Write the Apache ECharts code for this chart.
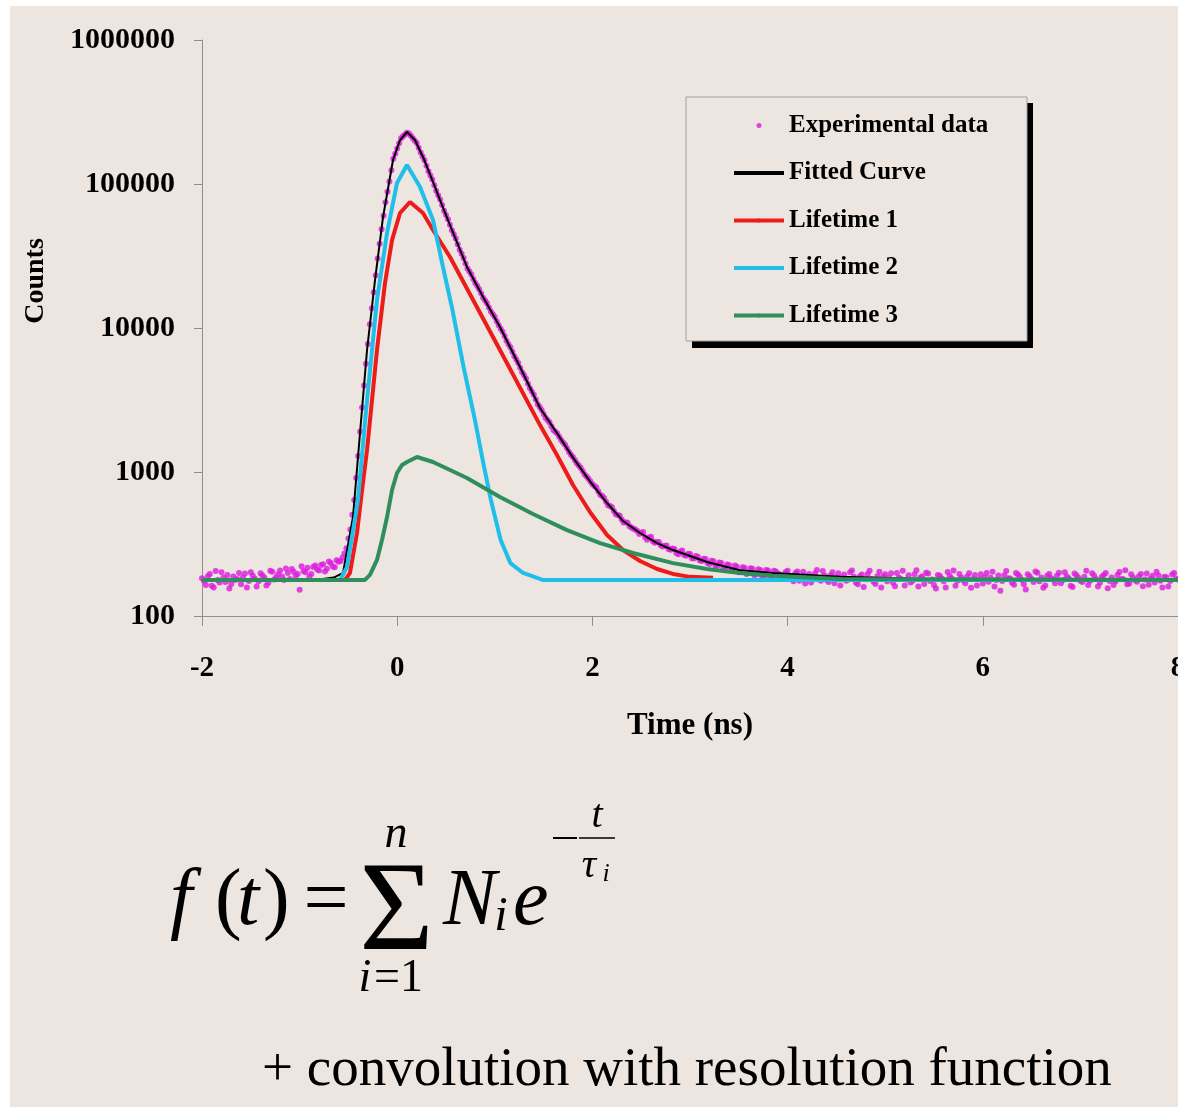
<!DOCTYPE html>
<html><head><meta charset="utf-8">
<script src="https://cdn.jsdelivr.net/npm/echarts@6.0.0/dist/echarts.min.js"></script>
<style>
html,body{margin:0;padding:0;background:#fff;width:1178px;height:1107px;overflow:hidden;}
#chart{position:absolute;left:10px;top:6px;width:1168px;height:1101px;}
</style></head><body><div id="chart"></div>
<script>
// ---------- data ----------
const xTicks = [-2, 0, 2, 4, 6, 8];
const yTicks = [100, 1000, 10000, 100000, 1000000];

// experimental channels, set A
const expTime = [
-2,-1.96,-1.92,-1.88,-1.84,-1.8,-1.76,-1.72,-1.68,-1.64,
-1.6,-1.56,-1.52,-1.48,-1.44,-1.4,-1.36,-1.32,-1.28,-1.24,
-1.2,-1.16,-1.12,-1.08,-1.04,-1,-0.96,-0.92,-0.88,-0.84,
-0.8,-0.76,-0.72,-0.68,-0.64,-0.6,-0.56,-0.52,-0.48,-0.44,
-0.4,-0.36,-0.32,-0.28,-0.24,-0.2,-0.16,-0.12,-0.08,-0.04,
0,0.04,0.08,0.12,0.16,0.2,0.24,0.28,0.32,0.36,
0.4,0.44,0.48,0.52,0.56,0.6,0.64,0.68,0.72,0.76,
0.8,0.84,0.88,0.92,0.96,1,1.04,1.08,1.12,1.16,
1.2,1.24,1.28,1.32,1.36,1.4,1.44,1.48,1.52,1.56,
1.6,1.64,1.68,1.72,1.76,1.8,1.84,1.88,1.92,1.96,
2,2.04,2.08,2.12,2.16,2.2,2.24,2.28,2.32,2.36,
2.4,2.44,2.48,2.52,2.56,2.6,2.64,2.68,2.72,2.76,
2.8,2.84,2.88,2.92,2.96,3,3.04,3.08,3.12,3.16,
3.2,3.24,3.28,3.32,3.36,3.4,3.44,3.48,3.52,3.56,
3.6,3.64,3.68,3.72,3.76,3.8,3.84,3.88,3.92,3.96,
4,4.04,4.08,4.12,4.16,4.2,4.24,4.28,4.32,4.36,
4.4,4.44,4.48,4.52,4.56,4.6,4.64,4.68,4.72,4.76,
4.8,4.84,4.88,4.92,4.96,5,5.04,5.08,5.12,5.16,
5.2,5.24,5.28,5.32,5.36,5.4,5.44,5.48,5.52,5.56,
5.6,5.64,5.68,5.72,5.76,5.8,5.84,5.88,5.92,5.96,
6,6.04,6.08,6.12,6.16,6.2,6.24,6.28,6.32,6.36,
6.4,6.44,6.48,6.52,6.56,6.6,6.64,6.68,6.72,6.76,
6.8,6.84,6.88,6.92,6.96,7,7.04,7.08,7.12,7.16,
7.2,7.24,7.28,7.32,7.36,7.4,7.44,7.48,7.52,7.56,
7.6,7.64,7.68,7.72,7.76,7.8,7.84,7.88,7.92,7.96,
8];
const expCounts = [
183,164,196,158,178,201,172,155,188,181,
166,197,175,190,160,198,184,170,203,186,
207,178,199,212,190,152,205,216,196,224,
207,229,213,233,218,238,255,296,398,640,
1290,2810,5650,10600,17700,30400,48500,74600,104200,149500,
176200,208100,220400,224500,207800,192300,165200,146300,122600,107300,
89700,78100,65200,57000,47700,41800,35000,30600,25900,23500,
20500,18600,16250,14850,13000,11900,10450,9420,8160,7350,
6370,5720,4930,4450,3820,3440,2950,2700,2380,2215,
1955,1850,1670,1545,1378,1270,1148,1070,962,898,
821,779,695,661,587,569,508,496,446,445,
412,398,371,383,339,355,322,327,304,309,
288,292,268,285,262,269,251,258,241,249,
230,240,223,233,215,226,209,220,203,216,
199,213,196,209,192,207,189,204,194,186,
206,181,199,176,203,188,171,197,183,205,
178,192,169,198,185,176,201,187,166,194,
180,206,173,189,158,195,184,170,199,181,
163,192,176,208,185,167,197,179,155,190,
174,202,183,162,196,177,188,157,193,180,
168,199,184,160,191,175,205,182,165,194,
178,153,189,172,200,185,163,196,179,190,
169,201,183,159,192,176,187,164,198,181,
170,193,156,185,174,202,180,166,195,177,
189,161,197,182,171,191,158,186,175,199,
179];

// experimental channels, set B (in between set A)
const expTimeB = [
-1.98,-1.94,-1.9,-1.86,-1.82,-1.78,-1.74,-1.7,-1.66,-1.62,
-1.58,-1.54,-1.5,-1.46,-1.42,-1.38,-1.34,-1.3,-1.26,-1.22,
-1.18,-1.14,-1.1,-1.06,-1.02,-0.98,-0.94,-0.9,-0.86,-0.82,
-0.78,-0.74,-0.7,-0.66,-0.62,-0.58,-0.54,-0.5,-0.46,-0.42,
-0.38,-0.34,-0.3,-0.26,-0.22,-0.18,-0.14,-0.1,-0.06,-0.02,
0.02,0.06,0.1,0.14,0.18,0.22,0.26,0.3,0.34,0.38,
0.42,0.46,0.5,0.54,0.58,0.62,0.66,0.7,0.74,0.78,
0.82,0.86,0.9,0.94,0.98,1.02,1.06,1.1,1.14,1.18,
1.22,1.26,1.3,1.34,1.38,1.42,1.46,1.5,1.54,1.58,
1.62,1.66,1.7,1.74,1.78,1.82,1.86,1.9,1.94,1.98,
2.02,2.06,2.1,2.14,2.18,2.22,2.26,2.3,2.34,2.38,
2.42,2.46,2.5,2.54,2.58,2.62,2.66,2.7,2.74,2.78,
2.82,2.86,2.9,2.94,2.98,3.02,3.06,3.1,3.14,3.18,
3.22,3.26,3.3,3.34,3.38,3.42,3.46,3.5,3.54,3.58,
3.62,3.66,3.7,3.74,3.78,3.82,3.86,3.9,3.94,3.98,
4.02,4.06,4.1,4.14,4.18,4.22,4.26,4.3,4.34,4.38,
4.42,4.46,4.5,4.54,4.58,4.62,4.66,4.7,4.74,4.78,
4.82,4.86,4.9,4.94,4.98,5.02,5.06,5.1,5.14,5.18,
5.22,5.26,5.3,5.34,5.38,5.42,5.46,5.5,5.54,5.58,
5.62,5.66,5.7,5.74,5.78,5.82,5.86,5.9,5.94,5.98,
6.02,6.06,6.1,6.14,6.18,6.22,6.26,6.3,6.34,6.38,
6.42,6.46,6.5,6.54,6.58,6.62,6.66,6.7,6.74,6.78,
6.82,6.86,6.9,6.94,6.98,7.02,7.06,7.1,7.14,7.18,
7.22,7.26,7.3,7.34,7.38,7.42,7.46,7.5,7.54,7.58,
7.62,7.66,7.7,7.74,7.78,7.82,7.86,7.9,7.94,7.98];
const expCountsB = [
176,189,162,205,171,184,193,167,178,199,
185,158,201,182,174,191,163,206,179,195,
188,214,181,203,196,222,201,187,219,210,
226,204,239,221,244,241,272,345,505,910,
1900,3980,7740,13700,23200,38400,60150,88200,124800,162300,
191500,214200,226900,216000,199900,178200,155500,133900,114700,98100,
83700,71400,61000,52100,44700,38200,32800,28100,24700,21900,
19600,17400,15500,13900,12450,11150,9900,8800,7700,6850,
6050,5300,4700,4100,3620,3190,2830,2530,2300,2080,
1900,1760,1600,1460,1320,1210,1110,1015,930,860,
800,735,680,622,580,537,503,468,447,420,
403,389,378,352,349,330,326,310,306,292,
294,274,280,265,271,252,261,243,250,233,
242,224,235,214,228,206,224,201,218,196,
215,192,211,188,209,185,206,197,181,202,
190,174,204,185,168,196,180,209,176,191,
172,201,186,163,194,179,207,170,188,159,
196,181,167,203,188,174,198,161,185,206,
179,171,195,160,189,200,175,164,193,182,
158,190,207,176,185,169,198,181,163,195,
186,173,203,178,150,192,183,170,199,187,
166,195,181,204,174,157,190,183,169,200,
178,188,162,197,184,172,206,176,191,160,
187,199,175,164,193,181,208,168,185,173,
196,179,165,190,203,176,187,160,194,182];

const fitTime = [-2,-0.8,-0.65,-0.555,-0.5,-0.453,-0.381,-0.309,-0.227,-0.145,-0.043,0.029,0.1,0.182,0.264,0.367,0.439,0.541,0.715,0.88,1.053,1.258,1.463,1.637,1.801,1.975,2.15,2.314,2.488,2.662,2.826,3.0,3.174,3.512,3.85,4.537,5.5,8];
const fitCounts = [178,179,185,199,323,487,1866,7035,21550,59000,146800,202000,229600,202000,154000,103300,77400,51900,26550,16400,10160,5360,2780,1862,1259,861,609,457,377,321,287,261,237,208,199,187,180,178];

const life1Time = [-2,-0.535,-0.484,-0.412,-0.361,-0.309,-0.258,-0.207,-0.125,-0.053,0.029,0.131,0.264,0.367,0.541,1.053,1.463,1.637,1.801,1.975,2.15,2.314,2.488,2.662,2.826,3.0,3.236];
const life1Counts = [178,178,199,377,738,1422,3162,7035,20540,40800,62900,75000,62900,47970,31130,7035,2118,1312,813,527,365,287,241,212,196,187,184];

const life2Time = [-2,-0.586,-0.514,-0.463,-0.402,-0.35,-0.309,-0.207,-0.104,-0.002,0.1,0.234,0.367,0.469,0.56,0.68,0.79,0.89,0.96,1.06,1.16,1.29,1.49,8];
const life2Counts = [178,178,219,354,639,1563,3162,15640,45700,101600,135500,95300,56200,26530,14000,5360,2410,1084,639,337,233,199,178,178];

const life3Time = [-2,-0.33,-0.279,-0.207,-0.156,-0.104,-0.053,-0.002,0.049,0.1,0.203,0.367,0.715,1.053,1.391,1.74,2.078,2.416,2.826,3.174,3.512,3.85,4.537,8];
const life3Counts = [178,178,193,245,337,487,750,984,1119,1173,1271,1173,908,670,511,395,321,274,233,212,199,190,181,178];

// ---------- chart ----------
const SERIF = "'Liberation Serif','Times New Roman',serif";
const BG = '#ECE5E0';
const pairs = (ts, vs) => ts.map((t, i) => [t, vs[i]]);
const chart = echarts.init(document.getElementById('chart'));

function txt(x, y, text, size, opts) {
  opts = opts || {};
  return {
    type: 'text', x: x, y: y, z: 5, rotation: opts.rotation || 0,
    style: {
      text: text, fill: '#000',
      fontFamily: SERIF, fontSize: size,
      fontStyle: opts.italic ? 'italic' : 'normal',
      fontWeight: opts.bold ? 'bold' : 'normal',
      align: opts.align || 'left', verticalAlign: 'middle'
    }
  };
}

chart.setOption({
  animation: false,
  backgroundColor: BG,
  grid: { left: 192, right: 0, top: 34, height: 576, outerBoundsMode: 'none', containLabel: false },
  xAxis: {
    type: 'value', min: xTicks[0], max: xTicks[xTicks.length - 1], interval: 2,
    name: 'Time (ns)', nameLocation: 'middle', nameGap: 94,
    nameTextStyle: { fontFamily: SERIF, fontWeight: 'bold', fontSize: 31, color: '#000' },
    axisLine: { onZero: false, lineStyle: { color: '#8f8f8f', width: 1 } },
    axisTick: { show: true, length: 10, lineStyle: { color: '#8f8f8f' } },
    axisLabel: { fontFamily: SERIF, fontWeight: 'bold', fontSize: 29, color: '#000', margin: 38 },
    splitLine: { show: false }
  },
  yAxis: {
    type: 'log', logBase: 10, min: yTicks[0], max: yTicks[yTicks.length - 1],
    axisLine: { show: true, onZero: false, lineStyle: { color: '#8f8f8f', width: 1 } },
    axisTick: { show: true, length: 8, lineStyle: { color: '#8f8f8f' } },
    axisLabel: { fontFamily: SERIF, fontWeight: 'bold', fontSize: 30, color: '#000', margin: 27,
      formatter: v => String(Math.round(v)) },
    splitLine: { show: false }, minorTick: { show: false }
  },
  legend: {
    orient: 'vertical', left: 722, top: 104.5, padding: 0,
    itemWidth: 50, itemHeight: 5, itemGap: 17.5,
    textStyle: { fontFamily: SERIF, fontWeight: 'bold', fontSize: 25, color: '#000', lineHeight: 30 },
    lineStyle: { width: 4 },
    data: ['Experimental data', 'Fitted Curve', 'Lifetime 1', 'Lifetime 2', 'Lifetime 3'],
    selectedMode: false
  },
  graphic: [
    { type: 'rect', z: 3, shape: { x: 682, y: 97, width: 341, height: 245 }, style: { fill: '#000' } },
    { type: 'rect', z: 3, shape: { x: 676, y: 91, width: 341, height: 244 }, style: { fill: BG, stroke: '#a0a0a0', lineWidth: 1 } },
    txt(26, 275, 'Counts', 28, { bold: true, align: 'center', rotation: Math.PI / 2 }),
    // formula
    txt(160, 897, 'f', 80, { italic: true }),
    txt(205, 897, '(', 80, {}),
    txt(227, 897, 't', 80, { italic: true }),
    txt(253, 897, ')', 80, {}),
    txt(316, 897, '=', 80, { align: 'center' }),
    txt(386.5, 909, 'Σ', 128, { align: 'center' }),
    txt(386, 829, 'n', 46, { italic: true, align: 'center' }),
    txt(355, 973, 'i', 46, { italic: true, align: 'center' }),
    txt(364, 973, '=1', 46, {}),
    txt(433, 897, 'N', 80, { italic: true }),
    txt(491, 911, 'i', 48, { italic: true, align: 'center' }),
    txt(503, 897, 'e', 80, { italic: true }),
    { type: 'line', z: 5, shape: { x1: 543, y1: 832, x2: 567, y2: 832 }, style: { stroke: '#000', lineWidth: 2 } },
    { type: 'line', z: 5, shape: { x1: 569, y1: 832, x2: 605, y2: 832 }, style: { stroke: '#000', lineWidth: 1.5 } },
    txt(587, 810, 't', 40, { italic: true, align: 'center' }),
    txt(579, 860, 'τ', 40, { italic: true, align: 'center' }),
    txt(596, 868, 'i', 26, { italic: true, align: 'center' }),
    txt(252, 1065, '+ convolution with resolution function', 55, {})
  ],
  series: [
    { name: 'Fitted Curve', type: 'line', symbol: 'none', data: pairs(fitTime, fitCounts),
      lineStyle: { color: '#000', width: 2 }, itemStyle: { color: '#000' } },
    { name: 'Experimental data', type: 'scatter', symbol: 'circle', symbolSize: 6,
      data: pairs(expTime, expCounts).concat(pairs(expTimeB, expCountsB)), itemStyle: { color: '#DD1CDD' } },
    { name: 'Lifetime 1', type: 'line', symbol: 'none', data: pairs(life1Time, life1Counts),
      lineStyle: { color: '#EE1B1B', width: 4 }, itemStyle: { color: '#EE1B1B' } },
    { name: 'Lifetime 2', type: 'line', symbol: 'none', data: pairs(life2Time, life2Counts),
      lineStyle: { color: '#1FBFE9', width: 4 }, itemStyle: { color: '#1FBFE9' } },
    { name: 'Lifetime 3', type: 'line', symbol: 'none', data: pairs(life3Time, life3Counts),
      lineStyle: { color: '#2F8F5B', width: 4 }, itemStyle: { color: '#2F8F5B' } }
  ]
});
</script></body></html>
